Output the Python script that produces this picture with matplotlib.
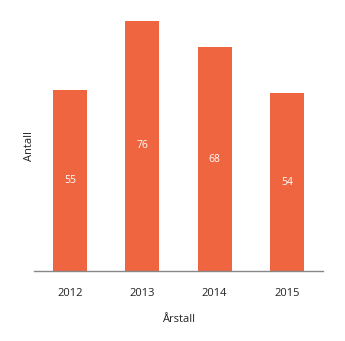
import matplotlib
matplotlib.use("Agg")
import matplotlib.pyplot as plt

plt.rcParams['font.family'] = ['Open Sans', 'DejaVu Sans']

years = ["2012", "2013", "2014", "2015"]
values = [55, 76, 68, 54]

fig = plt.figure(figsize=(3.45, 3.41), dpi=100)
ax = fig.add_axes([34/345, 70/341, 289/345, 250/341])
x = list(range(len(years)))
bars = ax.bar(x, values, width=0.47, color="#EE6540")
for xi, v in zip(x, values):
    ax.text(xi, v/2, str(v), ha="center", va="center", color="white", fontsize=7.5)
ax.set_xlim(-0.5, 3.5)
ax.set_ylim(0, 76)
ax.set_xticks(x)
ax.set_xticklabels(years, fontsize=8, color="#222222")
ax.tick_params(axis="x", length=0, pad=12)
ax.set_yticks([])
for s in ["top", "right", "left"]:
    ax.spines[s].set_visible(False)
ax.spines["bottom"].set_color("#888888")
ax.spines["bottom"].set_linewidth(1.0)
ax.set_xlabel("Årstall", fontsize=8, color="#222222", labelpad=11)
ax.set_ylabel("Antall", fontsize=8, color="#222222", labelpad=-1)
fig.savefig("out.png", dpi=100)
